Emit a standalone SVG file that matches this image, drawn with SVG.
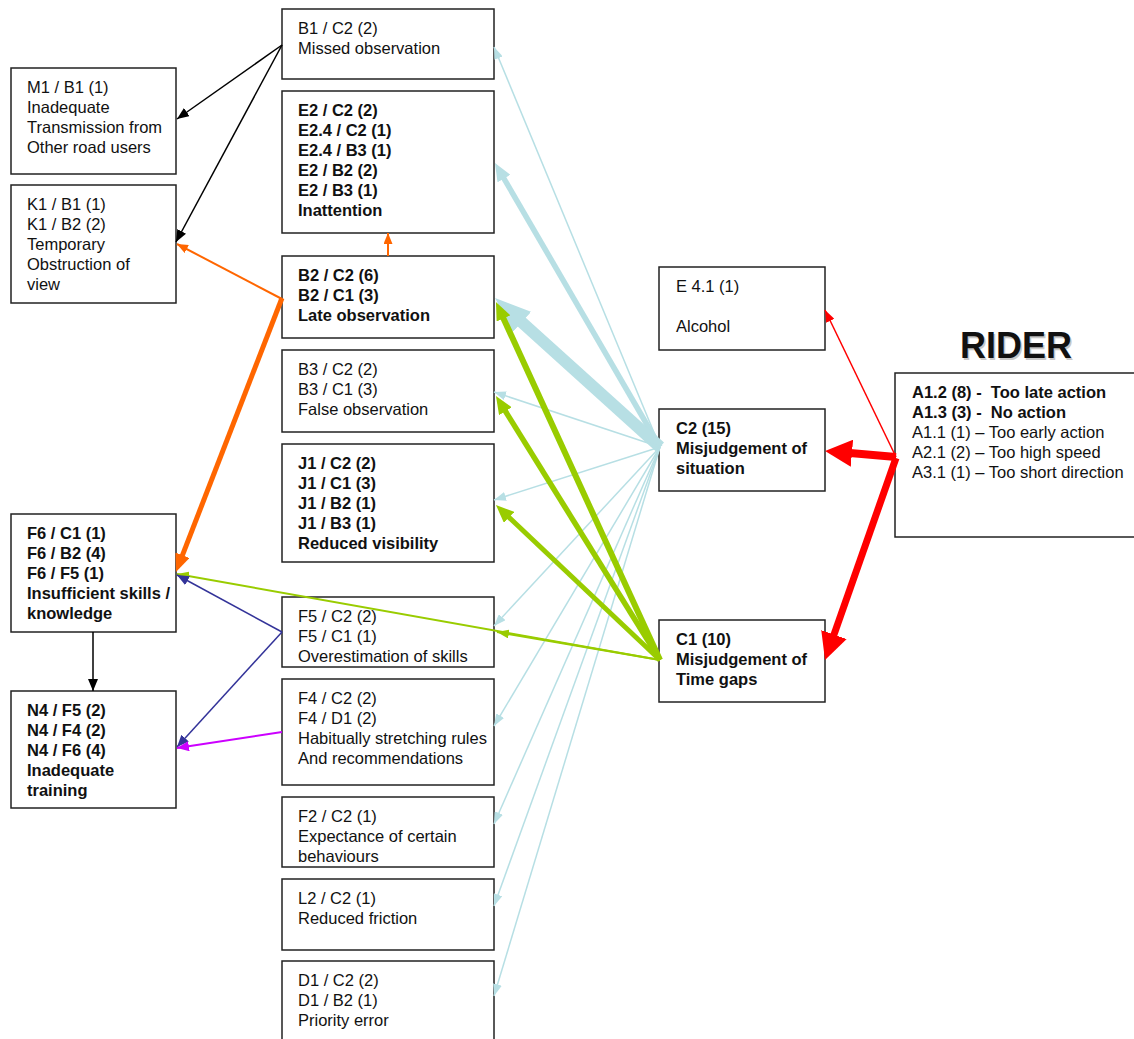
<svg xmlns="http://www.w3.org/2000/svg" width="1134" height="1039" viewBox="0 0 1134 1039">
<style>
  .box { fill: #ffffff; stroke: #222222; stroke-width: 1.5; }
  text { font-family: "Liberation Sans", Arial, sans-serif; font-size: 16.5px; fill: #111111; }
  .b { font-weight: bold; }
  .rider { font-size: 36px; font-weight: bold; }
  .c { fill: none; stroke-linecap: butt; }
  .lb { stroke: #b7dfe4; }
  .gr { stroke: #99cc00; }
  .or { stroke: #ff6600; }
  .nv { stroke: #333399; }
  .mg { stroke: #cc00ff; }
  .bk { stroke: #000000; }
  .rd { stroke: #ff0000; }
</style>
<defs>
  <marker id="hBlueS" markerUnits="userSpaceOnUse" markerWidth="12" markerHeight="9" viewBox="0 0 12 9" refX="12" refY="4.5" orient="auto"><path d="M0,0 L12,4.5 L0,9 z" fill="#b7dfe4"/></marker>
  <marker id="hBlueM" markerUnits="userSpaceOnUse" markerWidth="18" markerHeight="15" viewBox="0 0 18 15" refX="9" refY="7.5" orient="auto"><path d="M0,0 L18,7.5 L0,15 z" fill="#b7dfe4"/></marker>
  <marker id="hBlueL" markerUnits="userSpaceOnUse" markerWidth="36" markerHeight="28" viewBox="0 0 36 28" refX="18" refY="14" orient="auto"><path d="M0,0 L36,14 L0,28 z" fill="#b7dfe4"/></marker>
  <marker id="hGreenS" markerUnits="userSpaceOnUse" markerWidth="12" markerHeight="9" viewBox="0 0 12 9" refX="12" refY="4.5" orient="auto"><path d="M0,0 L12,4.5 L0,9 z" fill="#99cc00"/></marker>
  <marker id="hGreenM" markerUnits="userSpaceOnUse" markerWidth="18" markerHeight="15" viewBox="0 0 18 15" refX="9" refY="7.5" orient="auto"><path d="M0,0 L18,7.5 L0,15 z" fill="#99cc00"/></marker>
  <marker id="hOrangeS" markerUnits="userSpaceOnUse" markerWidth="11" markerHeight="9" viewBox="0 0 11 9" refX="11" refY="4.5" orient="auto"><path d="M0,0 L11,4.5 L0,9 z" fill="#ff6600"/></marker>
  <marker id="hOrangeM" markerUnits="userSpaceOnUse" markerWidth="18" markerHeight="15" viewBox="0 0 18 15" refX="9" refY="7.5" orient="auto"><path d="M0,0 L18,7.5 L0,15 z" fill="#ff6600"/></marker>
  <marker id="hNavy" markerUnits="userSpaceOnUse" markerWidth="12" markerHeight="10" viewBox="0 0 12 10" refX="12" refY="5" orient="auto"><path d="M0,0 L12,5 L0,10 z" fill="#333399"/></marker>
  <marker id="hMag" markerUnits="userSpaceOnUse" markerWidth="12" markerHeight="10" viewBox="0 0 12 10" refX="12" refY="5" orient="auto"><path d="M0,0 L12,5 L0,10 z" fill="#cc00ff"/></marker>
  <marker id="hBlack" markerUnits="userSpaceOnUse" markerWidth="12" markerHeight="10" viewBox="0 0 12 10" refX="12" refY="5" orient="auto"><path d="M0,0 L12,5 L0,10 z" fill="#000000"/></marker>
  <marker id="hRedS" markerUnits="userSpaceOnUse" markerWidth="12" markerHeight="9" viewBox="0 0 12 9" refX="12" refY="4.5" orient="auto"><path d="M0,0 L12,4.5 L0,9 z" fill="#ff0000"/></marker>
  <marker id="hRedL" markerUnits="userSpaceOnUse" markerWidth="27" markerHeight="27" viewBox="0 0 27 27" refX="13.5" refY="13.5" orient="auto"><path d="M0,0 L27,13.5 L0,27 z" fill="#ff0000"/></marker>
</defs>

<rect width="1134" height="1039" fill="#ffffff"/>

<!-- Nodes -->
<g id="n_b1">
  <rect class="box" x="282" y="9" width="212" height="70"/>
  <text x="298" y="34">B1 / C2 (2)</text>
  <text x="298" y="54">Missed observation</text>
</g>
<g id="n_e2">
  <rect class="box" x="282" y="91" width="212" height="142"/>
  <text class="b" x="298" y="116">E2 / C2 (2)</text>
  <text class="b" x="298" y="136">E2.4 / C2 (1)</text>
  <text class="b" x="298" y="156">E2.4 / B3 (1)</text>
  <text class="b" x="298" y="176">E2 / B2 (2)</text>
  <text class="b" x="298" y="196">E2 / B3 (1)</text>
  <text class="b" x="298" y="216">Inattention</text>
</g>
<g id="n_b2">
  <rect class="box" x="282" y="256" width="212" height="82"/>
  <text class="b" x="298" y="281">B2 / C2 (6)</text>
  <text class="b" x="298" y="301">B2 / C1 (3)</text>
  <text class="b" x="298" y="321">Late observation</text>
</g>
<g id="n_b3">
  <rect class="box" x="282" y="350" width="212" height="82"/>
  <text x="298" y="375">B3 / C2 (2)</text>
  <text x="298" y="395">B3 / C1 (3)</text>
  <text x="298" y="415">False observation</text>
</g>
<g id="n_j1">
  <rect class="box" x="282" y="444" width="212" height="118"/>
  <text class="b" x="298" y="469">J1 / C2 (2)</text>
  <text class="b" x="298" y="489">J1 / C1 (3)</text>
  <text class="b" x="298" y="509">J1 / B2 (1)</text>
  <text class="b" x="298" y="529">J1 / B3 (1)</text>
  <text class="b" x="298" y="549">Reduced visibility</text>
</g>
<g id="n_f5">
  <rect class="box" x="282" y="597" width="212" height="70"/>
  <text x="298" y="622">F5 / C2 (2)</text>
  <text x="298" y="642">F5 / C1 (1)</text>
  <text x="298" y="662">Overestimation of skills</text>
</g>
<g id="n_f4">
  <rect class="box" x="282" y="679" width="212" height="106"/>
  <text x="298" y="704">F4 / C2 (2)</text>
  <text x="298" y="724">F4 / D1 (2)</text>
  <text x="298" y="744">Habitually stretching rules</text>
  <text x="298" y="764">And recommendations</text>
</g>
<g id="n_f2">
  <rect class="box" x="282" y="797" width="212" height="70"/>
  <text x="298" y="822">F2 / C2 (1)</text>
  <text x="298" y="842">Expectance of certain</text>
  <text x="298" y="862">behaviours</text>
</g>
<g id="n_l2">
  <rect class="box" x="282" y="879" width="212" height="71"/>
  <text x="298" y="904">L2 / C2 (1)</text>
  <text x="298" y="924">Reduced friction</text>
</g>
<g id="n_d1">
  <rect class="box" x="282" y="961" width="212" height="90"/>
  <text x="298" y="986">D1 / C2 (2)</text>
  <text x="298" y="1006">D1 / B2 (1)</text>
  <text x="298" y="1026">Priority error</text>
</g>
<g id="n_m1">
  <rect class="box" x="11" y="68" width="165" height="106"/>
  <text x="27" y="93">M1 / B1 (1)</text>
  <text x="27" y="113">Inadequate</text>
  <text x="27" y="133">Transmission from</text>
  <text x="27" y="153">Other road users</text>
</g>
<g id="n_k1">
  <rect class="box" x="11" y="185" width="165" height="118"/>
  <text x="27" y="210">K1 / B1 (1)</text>
  <text x="27" y="230">K1 / B2 (2)</text>
  <text x="27" y="250">Temporary</text>
  <text x="27" y="270">Obstruction of</text>
  <text x="27" y="290">view</text>
</g>
<g id="n_f6">
  <rect class="box" x="11" y="514" width="165" height="118"/>
  <text class="b" x="27" y="539">F6 / C1 (1)</text>
  <text class="b" x="27" y="559">F6 / B2 (4)</text>
  <text class="b" x="27" y="579">F6 / F5 (1)</text>
  <text class="b" x="27" y="599">Insufficient skills /</text>
  <text class="b" x="27" y="619">knowledge</text>
</g>
<g id="n_n4">
  <rect class="box" x="11" y="691" width="165" height="117"/>
  <text class="b" x="27" y="716">N4 / F5 (2)</text>
  <text class="b" x="27" y="736">N4 / F4 (2)</text>
  <text class="b" x="27" y="756">N4 / F6 (4)</text>
  <text class="b" x="27" y="776">Inadequate</text>
  <text class="b" x="27" y="796">training</text>
</g>
<g id="n_e41">
  <rect class="box" x="659" y="267" width="166" height="83"/>
  <text x="676" y="292">E 4.1 (1)</text>
  <text x="676" y="332">Alcohol</text>
</g>
<g id="n_c2">
  <rect class="box" x="659" y="409" width="166" height="82"/>
  <text class="b" x="676" y="434">C2 (15)</text>
  <text class="b" x="676" y="454">Misjudgement of</text>
  <text class="b" x="676" y="474">situation</text>
</g>
<g id="n_c1">
  <rect class="box" x="659" y="620" width="166" height="82"/>
  <text class="b" x="676" y="645">C1 (10)</text>
  <text class="b" x="676" y="665">Misjudgement of</text>
  <text class="b" x="676" y="685">Time gaps</text>
</g>
<g id="n_rider">
  <text class="rider" x="961.5" y="359.5" style="fill:#c8c8c8">RIDER</text>
  <text class="rider" x="960" y="358">RIDER</text>
  <rect class="box" x="895" y="373" width="250" height="164"/>
  <text class="b" x="912" y="398" xml:space="preserve">A1.2 (8) -  Too late action</text>
  <text class="b" x="912" y="418" xml:space="preserve">A1.3 (3) -  No action</text>
  <text x="912" y="438">A1.1 (1) – Too early action</text>
  <text x="912" y="458">A2.1 (2) – Too high speed</text>
  <text x="912" y="478">A3.1 (1) – Too short direction</text>
</g>

<!-- Connectors -->
<g id="connectors">
  <!-- black -->
  <path class="c bk" stroke-width="1.5" d="M282,45 L177,119" marker-end="url(#hBlack)"/>
  <path class="c bk" stroke-width="1.5" d="M282,45 L176,242" marker-end="url(#hBlack)"/>
  <path class="c bk" stroke-width="1.5" d="M93,632 L93,691" marker-end="url(#hBlack)"/>
  <!-- orange -->
  <path class="c or" stroke-width="2" d="M388,256 L388,233" marker-end="url(#hOrangeS)"/>
  <path class="c or" stroke-width="2" d="M282,299 L177,244" marker-end="url(#hOrangeS)"/>
  <path class="c or" stroke-width="5" d="M282,298 L179.2,563.6" marker-end="url(#hOrangeM)"/>
  <!-- light blue from C2 -->
  <path class="c lb" stroke-width="1.5" d="M660,447 L494,47" marker-end="url(#hBlueS)"/>
  <path class="c lb" stroke-width="5.5" d="M660,447 L499.5,170.8" marker-end="url(#hBlueM)"/>
  <path class="c lb" stroke-width="12" d="M660,447 L508.4,310.1" marker-end="url(#hBlueL)"/>
  <path class="c lb" stroke-width="1.5" d="M660,447 L494,392" marker-end="url(#hBlueS)"/>
  <path class="c lb" stroke-width="1.5" d="M660,447 L494,500" marker-end="url(#hBlueS)"/>
  <path class="c lb" stroke-width="1.5" d="M660,447 L494,626" marker-end="url(#hBlueS)"/>
  <path class="c lb" stroke-width="1.5" d="M660,447 L494,726" marker-end="url(#hBlueS)"/>
  <path class="c lb" stroke-width="1.5" d="M660,447 L494,824" marker-end="url(#hBlueS)"/>
  <path class="c lb" stroke-width="1.5" d="M660,447 L494,906" marker-end="url(#hBlueS)"/>
  <path class="c lb" stroke-width="1.5" d="M660,447 L494,996" marker-end="url(#hBlueS)"/>
  <!-- green from C1 -->
  <path class="c gr" stroke-width="6" d="M660,660 L499.7,310.2" marker-end="url(#hGreenM)"/>
  <path class="c gr" stroke-width="5.5" d="M660,660 L500.7,403.6" marker-end="url(#hGreenM)"/>
  <path class="c gr" stroke-width="5" d="M660,660 L502.5,511.2" marker-end="url(#hGreenM)"/>
  <path class="c gr" stroke-width="2" d="M660,660 L497,632" marker-end="url(#hGreenS)"/>
  <path class="c gr" stroke-width="2" d="M660,660 L177,574" marker-end="url(#hGreenS)"/>
  <!-- navy from F5 -->
  <path class="c nv" stroke-width="1.5" d="M282,632 L177,575" marker-end="url(#hNavy)"/>
  <path class="c nv" stroke-width="1.5" d="M282,632 L177,747" marker-end="url(#hNavy)"/>
  <!-- magenta from F4 -->
  <path class="c mg" stroke-width="2" d="M282,732 L177,748" marker-end="url(#hMag)"/>
  <!-- red from RIDER -->
  <path class="c rd" stroke-width="1.5" d="M896,457 L825,310" marker-end="url(#hRedS)"/>
  <path class="c rd" stroke-width="8" d="M896,457 L838.5,452.1" marker-end="url(#hRedL)"/>
  <path class="c rd" stroke-width="7" d="M896,458 L829.5,647.3" marker-end="url(#hRedL)"/>
</g>
</svg>
